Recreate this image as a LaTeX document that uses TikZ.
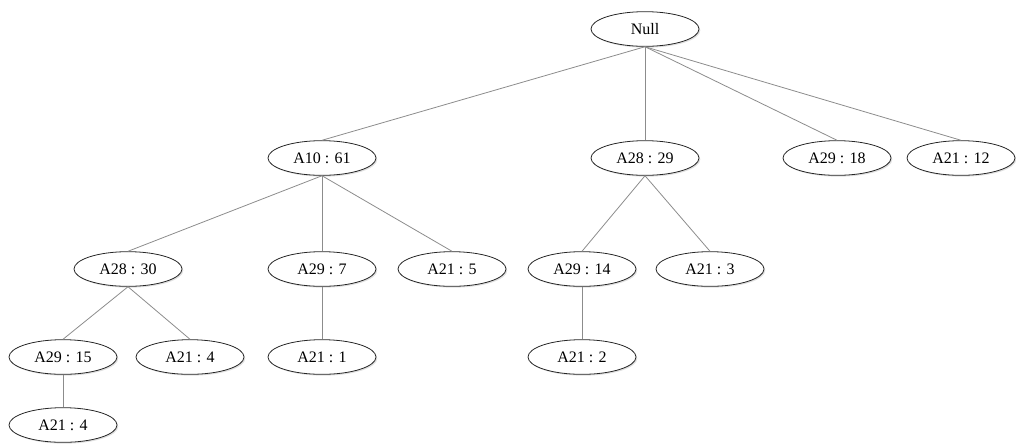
\documentclass[tikz,border=0pt]{standalone}
\usepackage{fontspec}
\setmainfont{Liberation Serif}
\usetikzlibrary{shapes.geometric,shadows}

\begin{document}
\begin{tikzpicture}[x=0.75pt, y=-0.75pt,
    knoop/.style={ellipse, draw=black!85, line width=0.6pt, fill=white, minimum width=81pt, minimum height=26pt,
        inner sep=0pt, font=\fontsize{12}{14}\selectfont,
        drop shadow={shadow xshift=1pt, shadow yshift=-1pt, opacity=0.25}},
    tak/.style={draw=gray!90, line width=0.6pt}]
    \useasboundingbox (0,0) rectangle (1016,444);

    % Wortel
    \node[knoop] (null) at (645,29) {Null};

    % Eerste niveau
    \node[knoop] (a10) at (322,158) {A10 : 61};
    \node[knoop] (a28b) at (645,158) {A28 : 29};
    \node[knoop] (a29c) at (837,158) {A29 : 18};
    \node[knoop] (a21f) at (961,158) {A21 : 12};

    % Tweede niveau
    \node[knoop] (a28a) at (128,269) {A28 : 30};
    \node[knoop] (a29b) at (322,269) {A29 : 7};
    \node[knoop] (a21c) at (452,269) {A21 : 5};
    \node[knoop] (a29d) at (582,269) {A29 : 14};
    \node[knoop] (a21e) at (710,269) {A21 : 3};

    % Derde niveau
    \node[knoop] (a29a) at (63,357) {A29 : 15};
    \node[knoop] (a21b) at (190,357) {A21 : 4};
    \node[knoop] (a21d) at (322,357) {A21 : 1};
    \node[knoop] (a21g) at (582,357) {A21 : 2};

    % Vierde niveau
    \node[knoop] (a21a) at (63,425) {A21 : 4};

    % Takken
    \foreach \van/\naar in {null/a10, null/a28b, null/a29c, null/a21f,
        a10/a28a, a10/a29b, a10/a21c, a28b/a29d, a28b/a21e,
        a28a/a29a, a28a/a21b, a29b/a21d, a29d/a21g, a29a/a21a}
        \draw[tak] (\van.south) -- (\naar.north);
\end{tikzpicture}
\end{document}
